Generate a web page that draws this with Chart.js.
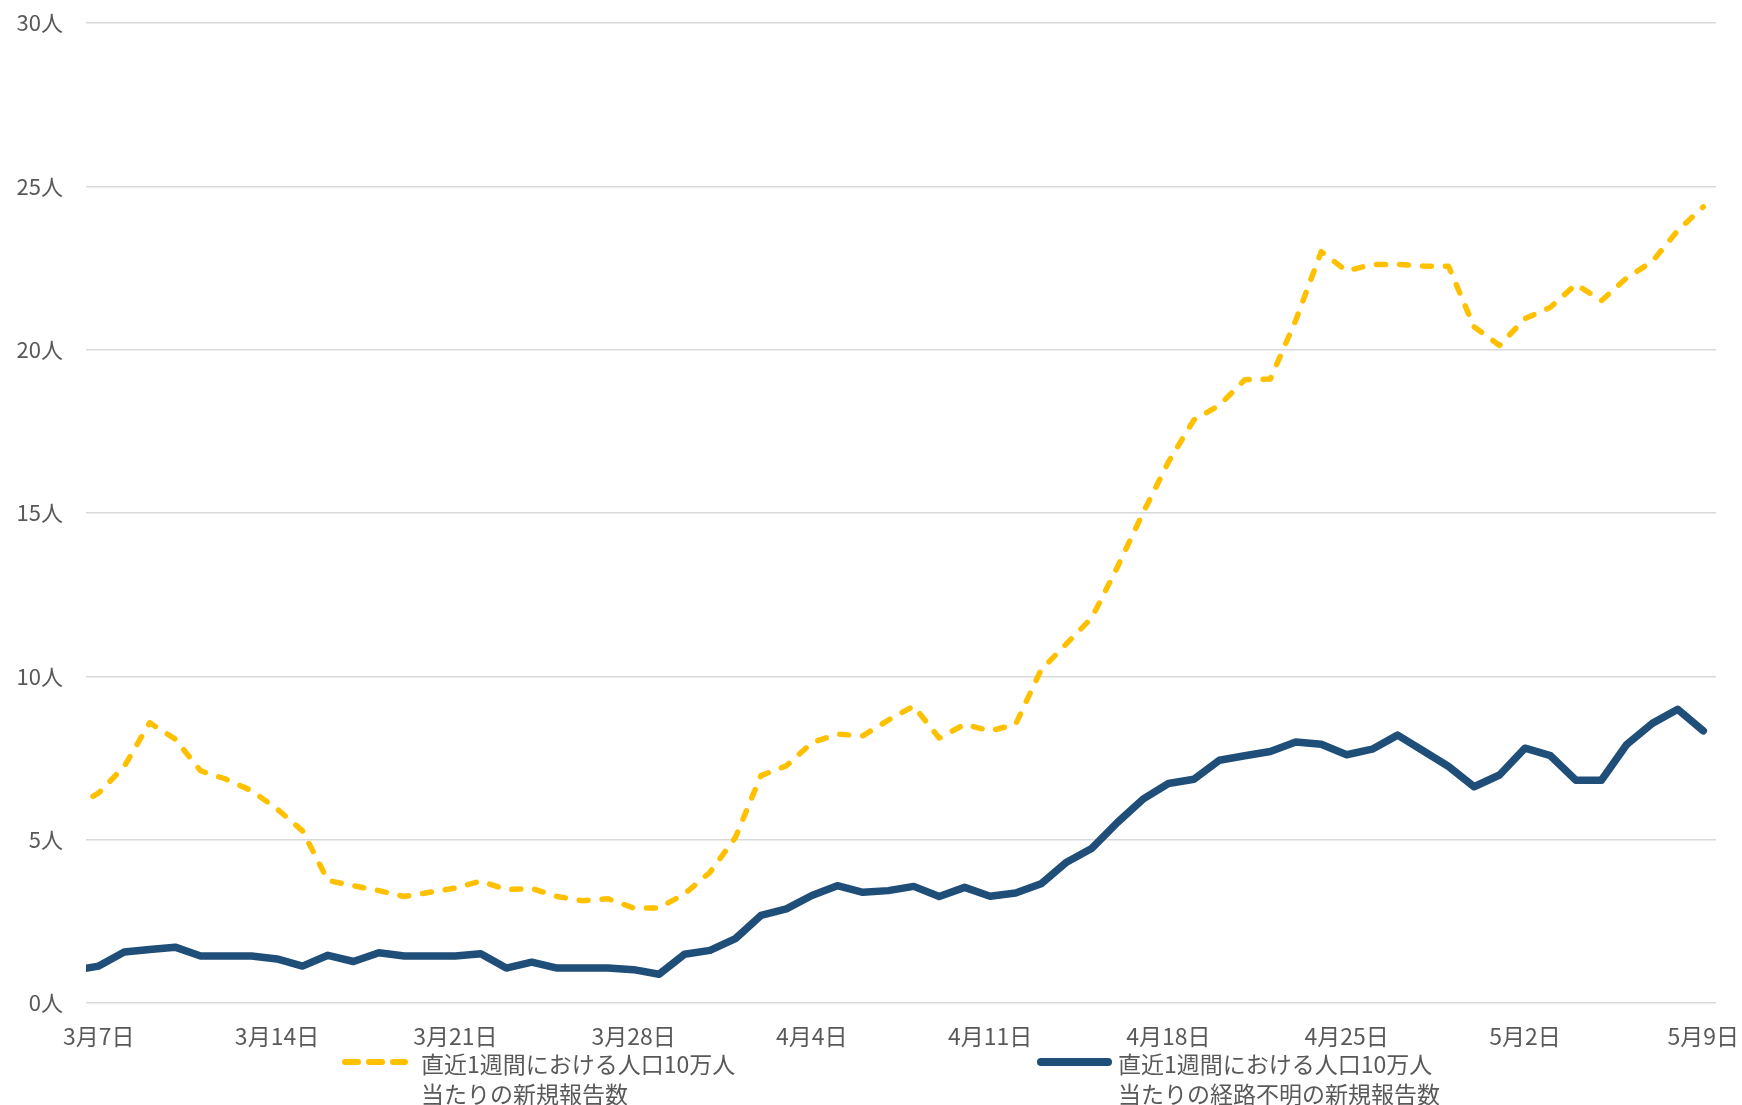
<!DOCTYPE html>
<html lang="ja">
<head>
<meta charset="utf-8">
<script src="https://cdn.jsdelivr.net/npm/chart.js@4.4.1/dist/chart.umd.min.js"></script>
<style>
  html, body { margin: 0; padding: 0; background: #fff; }
  #wrap { position: relative; width: 1742px; height: 1105px; }
  canvas { position: absolute; left: 0; top: 0; }
  .leg { position: absolute; font-family: "Noto Sans CJK JP", "Noto Sans", sans-serif; font-size: 23px; line-height: 30px; color: #595959; white-space: nowrap; }
  svg.legline { position: absolute; }
</style>
</head>
<body>
<div id="wrap">
  <canvas id="c" width="1742" height="1105"></canvas>
</div>
<script>
// Day labels (3月6日 is partly visible at the left edge of the plot)
const dates = [
  '3月6日','3月7日','3月8日','3月9日','3月10日','3月11日','3月12日','3月13日','3月14日','3月15日',
  '3月16日','3月17日','3月18日','3月19日','3月20日','3月21日','3月22日','3月23日','3月24日','3月25日',
  '3月26日','3月27日','3月28日','3月29日','3月30日','3月31日','4月1日','4月2日','4月3日','4月4日',
  '4月5日','4月6日','4月7日','4月8日','4月9日','4月10日','4月11日','4月12日','4月13日','4月14日',
  '4月15日','4月16日','4月17日','4月18日','4月19日','4月20日','4月21日','4月22日','4月23日','4月24日',
  '4月25日','4月26日','4月27日','4月28日','4月29日','4月30日','5月1日','5月2日','5月3日','5月4日',
  '5月5日','5月6日','5月7日','5月8日','5月9日'
];

// 直近1週間における人口10万人当たりの新規報告数
const newCases = [
  5.96, 6.43, 7.24, 8.58, 8.08, 7.11, 6.85, 6.50, 5.94, 5.27,
  3.75, 3.59, 3.44, 3.26, 3.39, 3.52, 3.73, 3.47, 3.51, 3.26,
  3.13, 3.19, 2.91, 2.91, 3.34, 4.00, 5.07, 6.96, 7.26, 7.97,
  8.23, 8.18, 8.66, 9.09, 8.11, 8.53, 8.33, 8.53, 10.20, 11.00,
  11.80, 13.35, 15.00, 16.56, 17.85, 18.30, 19.08, 19.10, 20.90, 23.00,
  22.41, 22.61, 22.61, 22.56, 22.55, 20.70, 20.13, 20.95, 21.30, 22.00,
  21.50, 22.20, 22.70, 23.65, 24.37
];

// 直近1週間における人口10万人当たりの経路不明の新規報告数
const unknownRoute = [
  1.00, 1.13, 1.56, 1.64, 1.71, 1.44, 1.44, 1.44, 1.35, 1.13,
  1.46, 1.27, 1.54, 1.44, 1.44, 1.44, 1.51, 1.07, 1.25, 1.07,
  1.07, 1.07, 1.02, 0.88, 1.49, 1.61, 1.97, 2.68, 2.88, 3.29,
  3.59, 3.39, 3.44, 3.57, 3.26, 3.54, 3.27, 3.37, 3.65, 4.31,
  4.74, 5.53, 6.24, 6.72, 6.85, 7.43, 7.57, 7.70, 7.99, 7.92,
  7.60, 7.77, 8.20, 7.72, 7.24, 6.62, 6.98, 7.80, 7.57, 6.82,
  6.82, 7.92, 8.56, 8.99, 8.33
];

const tickLabels = ['3月7日','3月14日','3月21日','3月28日','4月4日','4月11日','4月18日','4月25日','5月2日','5月9日'];
const yTicks = [0, 5, 10, 15, 20, 25, 30];

const seriesNames = [
  ['直近1週間における人口10万人', '当たりの新規報告数'],
  ['直近1週間における人口10万人', '当たりの経路不明の新規報告数']
];

// day index relative to first labelled day (3月7日 = 0)
const firstDay = dates.indexOf(tickLabels[0]);
const toPoints = arr => arr.map((v, i) => ({ x: i - firstDay, y: v }));
const tickDays = tickLabels.map(l => dates.indexOf(l) - firstDay);

const FONT = '"Noto Sans CJK JP", "Noto Sans", sans-serif';
const YELLOW = '#FFC000';
const BLUE = '#1F4E79';

new Chart(document.getElementById('c'), {
  type: 'line',
  data: {
    datasets: [
      {
        label: seriesNames[0].join(''),
        data: toPoints(newCases),
        borderColor: YELLOW,
        backgroundColor: YELLOW,
        borderWidth: 5.5,
        borderDash: [9, 14],
        borderCapStyle: 'round',
        borderJoinStyle: 'round',
        pointRadius: 0,
        tension: 0
      },
      {
        label: seriesNames[1].join(''),
        data: toPoints(unknownRoute),
        borderColor: BLUE,
        backgroundColor: BLUE,
        borderWidth: 7.5,
        borderCapStyle: 'round',
        borderJoinStyle: 'round',
        pointRadius: 0,
        tension: 0
      }
    ]
  },
  options: {
    responsive: false,
    animation: false,
    layout: { padding: { top: 23, right: 26, left: 0, bottom: 0 } },
    plugins: {
      legend: { display: false },
      tooltip: { enabled: false }
    },
    scales: {
      x: {
        type: 'linear',
        min: -0.5,
        max: tickDays[tickDays.length - 1] + 0.5,
        afterBuildTicks: axis => { axis.ticks = tickDays.map(v => ({ value: v })); },
        afterFit: axis => { axis.height = 102; axis.paddingLeft = 0; axis.paddingRight = 0; },
        grid: { display: false, drawTicks: false },
        border: { display: false },
        ticks: {
          autoSkip: false,
          maxRotation: 0,
          padding: 19,
          color: '#595959',
          font: { family: FONT, size: 23 },
          callback: v => tickLabels[tickDays.indexOf(v)]
        }
      },
      y: {
        min: yTicks[0],
        max: yTicks[yTicks.length - 1],
        afterBuildTicks: axis => { axis.ticks = yTicks.map(v => ({ value: v })); },
        afterFit: axis => { axis.width = 86; axis.paddingTop = 0; axis.paddingBottom = 0; },
        grid: { color: '#d9d9d9', lineWidth: 1.5, drawTicks: false },
        border: { display: false },
        ticks: {
          padding: 23,
          color: '#595959',
          font: { family: FONT, size: 22 },
          callback: v => v + '人'
        }
      }
    }
  }
});

// HTML legend (two-line labels as in the original)
const wrap = document.getElementById('wrap');
const legendItems = [
  { names: seriesNames[0], color: YELLOW, width: 6, dash: '13 11', x1: 345, x2: 405, textX: 421 },
  { names: seriesNames[1], color: BLUE, width: 8, dash: null, x1: 1041, x2: 1108, textX: 1118 }
];
legendItems.forEach(it => {
  const svg = document.createElementNS('http://www.w3.org/2000/svg', 'svg');
  svg.setAttribute('class', 'legline');
  svg.setAttribute('width', it.x2 - it.x1 + 20);
  svg.setAttribute('height', 20);
  svg.style.left = (it.x1 - 10) + 'px';
  svg.style.top = (1062 - 10) + 'px';
  const ln = document.createElementNS('http://www.w3.org/2000/svg', 'line');
  ln.setAttribute('x1', 10); ln.setAttribute('y1', 10);
  ln.setAttribute('x2', it.x2 - it.x1 + 10); ln.setAttribute('y2', 10);
  ln.setAttribute('stroke', it.color);
  ln.setAttribute('stroke-width', it.width);
  ln.setAttribute('stroke-linecap', 'round');
  if (it.dash) ln.setAttribute('stroke-dasharray', it.dash);
  svg.appendChild(ln);
  wrap.appendChild(svg);
  const d = document.createElement('div');
  d.className = 'leg';
  d.style.left = it.textX + 'px';
  d.style.top = '1048px';
  d.innerHTML = it.names.join('<br>');
  wrap.appendChild(d);
});
</script>
</body>
</html>
